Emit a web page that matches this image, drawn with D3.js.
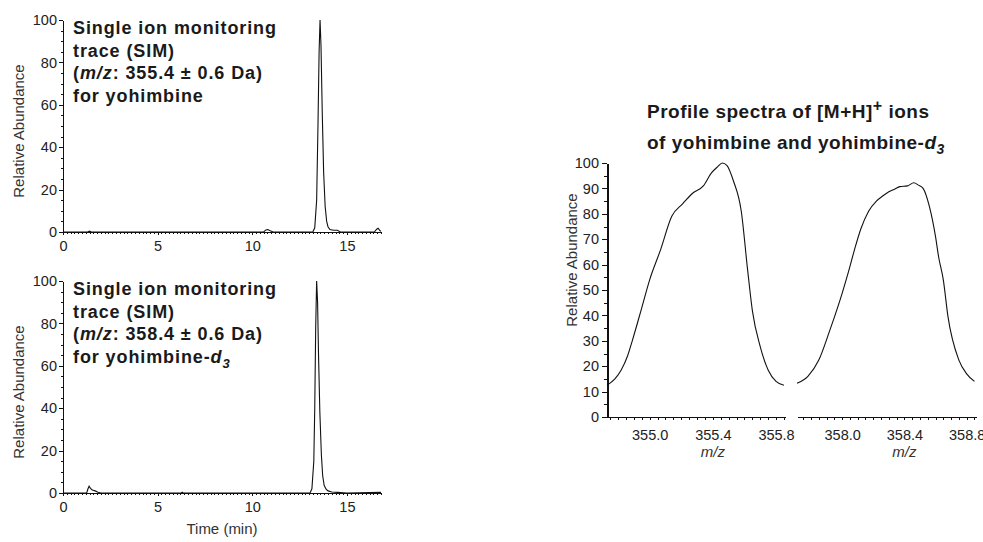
<!doctype html>
<html>
<head>
<meta charset="utf-8">
<title>SIM traces and profile spectra</title>
<style>
  * { margin: 0; padding: 0; }
  body { background: #fff; width: 983px; height: 542px; overflow: hidden; }
  svg { display: block; font-family: "Liberation Sans", Arial, Helvetica, sans-serif; }
  .axis path, .axis line { stroke: #111; shape-rendering: crispEdges; }
  .axis text { font-size: 14.5px; fill: #222; font-family: "Liberation Sans", Arial, sans-serif; }
  .trace { fill: none; stroke: #111; stroke-width: 1.1; }
  .note { font-size: 18px; font-weight: bold; fill: #1a1a1a; letter-spacing: 0.9px; }
  .ylab { font-size: 15px; fill: #333; }
</style>
</head>
<body>
<div id="main"></div>
<script src="https://cdn.jsdelivr.net/npm/d3@7"></script>
<script>
// SIM trace for yohimbine (m/z 355.4)
var time1 = [0, 1.3, 1.4, 1.5, 2.0, 10.6, 10.72, 10.82, 10.95, 11.1, 13.2, 13.3, 13.4, 13.47, 13.53, 13.58, 13.63, 13.7, 13.77, 13.85, 13.93, 14.0, 14.1, 14.3, 14.5, 14.65, 16.45, 16.57, 16.65, 16.75, 16.8];
var abund1 = [0, 0, 0.4, 0, 0, 0, 1.0, 1.2, 0.6, 0, 0, 2, 15, 50, 85, 100, 88, 55, 28, 12, 5, 2.5, 1.2, 0.8, 0.8, 0, 0, 1.3, 1.8, 0.6, 0.3];

// SIM trace for yohimbine-d3 (m/z 358.4)
var time2 = [0, 1.25, 1.32, 1.38, 1.45, 1.55, 1.7, 1.85, 2.0, 6.25, 6.3, 6.35, 13.05, 13.15, 13.25, 13.3, 13.35, 13.4, 13.45, 13.5, 13.57, 13.65, 13.72, 13.8, 13.9, 14.0, 14.2, 14.5, 15.0, 16.8];
var abund2 = [0, 0, 2, 3.2, 2.2, 1.4, 1.0, 0.4, 0, 0, 0.4, 0, 0, 2, 15, 40, 78, 100, 90, 65, 38, 18, 8, 3.5, 1.8, 1.0, 0.5, 0.3, 0, 0.3];

// profile spectra
var mz1 = [354.73, 354.78, 354.82, 354.86, 354.89, 354.95, 355.0, 355.07, 355.14, 355.21, 355.27, 355.34, 355.39, 355.43, 355.46, 355.49, 355.53, 355.58, 355.62, 355.65, 355.70, 355.75, 355.80, 355.85];
var prof1 = [12.5, 15, 18.5, 24, 30, 43, 54, 66, 79, 84, 88, 91, 96, 98.5, 100, 99, 93, 81, 58, 42, 27.7, 18.5, 14, 12.5];
var mz2 = [357.71, 357.78, 357.85, 357.92, 358.0, 358.04, 358.08, 358.12, 358.17, 358.22, 358.26, 358.30, 358.34, 358.37, 358.42, 358.46, 358.49, 358.52, 358.56, 358.60, 358.62, 358.65, 358.68, 358.75, 358.80, 358.85];
var prof2 = [13.3, 16, 22.4, 34, 48.7, 57, 66, 74, 81, 85, 87, 88.7, 89.8, 90.7, 91, 92.2, 91.3, 90, 83, 71, 63, 54, 39.5, 22.4, 17, 14];

var timeTicks = [0, 5, 10, 15];
var abundTicksSIM = [0, 20, 40, 60, 80, 100];
var abundTicksProf = [0, 10, 20, 30, 40, 50, 60, 70, 80, 90, 100];
var mzTicks1 = [355.0, 355.4, 355.8];
var mzTicks2 = [358.0, 358.4, 358.8];

var svg = d3.select('#main').append('svg').attr('width', 983).attr('height', 542);

function zip(a, b) { return a.map(function(v, i) { return [v, b[i]]; }); }

// one chromatogram panel
function simPanel(top, times, abund, lines, showXTitle) {
  var x = d3.scaleLinear().domain([0, 16.8]).range([63, 381]);
  var y = d3.scaleLinear().domain([0, 100]).range([top + 212, top]);
  var g = svg.append('g');

  g.append('g').attr('class', 'axis').attr('transform', 'translate(63,0)')
    .call(d3.axisLeft(y).tickValues(d3.range(0, 101, 5)).tickSize(2.5).tickSizeOuter(0).tickFormat(''));
  g.append('g').attr('class', 'axis').attr('transform', 'translate(63,0)')
    .call(d3.axisLeft(y).tickValues(abundTicksSIM).tickSize(4).tickSizeOuter(0).tickPadding(2).tickFormat(d3.format('d')));

  g.append('g').attr('class', 'axis').attr('transform', 'translate(0,' + (top + 212) + ')')
    .call(d3.axisBottom(x).tickValues(d3.range(0, 16.81, 0.2)).tickSize(2).tickSizeOuter(0).tickFormat(''));
  g.append('g').attr('class', 'axis').attr('transform', 'translate(0,' + (top + 212) + ')')
    .call(d3.axisBottom(x).tickValues(timeTicks).tickSize(3).tickSizeOuter(0).tickPadding(6).tickFormat(d3.format('d')));

  g.append('path').datum(zip(times, abund)).attr('class', 'trace')
    .attr('d', d3.line().x(function(d) { return x(d[0]); }).y(function(d) { return y(d[1]); }));

  g.append('text').attr('class', 'ylab')
    .attr('transform', 'translate(24,' + (top + 111) + ') rotate(-90)')
    .attr('text-anchor', 'middle').text('Relative Abundance');

  // annotation text, one line per entry
  var note = g.append('text').attr('class', 'note');
  lines.forEach(function(parts, i) {
    var first = true;
    parts.forEach(function(p) {
      var t = note.append('tspan').text(p.t);
      if (first) { t.attr('x', 73).attr('y', top + 14 + i * 22.7); first = false; }
      if (p.it) t.attr('font-style', 'italic');
      if (p.sub) t.attr('font-size', '13px').attr('dy', 5);
    });
  });

  if (showXTitle) {
    g.append('text').attr('class', 'ylab').attr('x', 222).attr('y', top + 253)
      .attr('text-anchor', 'middle').text('Time (min)');
  }
}

simPanel(20, time1, abund1, [
  [{t: 'Single ion monitoring'}],
  [{t: 'trace (SIM)'}],
  [{t: '('}, {t: 'm/z', it: true}, {t: ': 355.4 \u00b1 0.6 Da)'}],
  [{t: 'for yohimbine'}]
], false);

simPanel(281, time2, abund2, [
  [{t: 'Single ion monitoring'}],
  [{t: 'trace (SIM)'}],
  [{t: '('}, {t: 'm/z', it: true}, {t: ': 358.4 \u00b1 0.6 Da)'}],
  [{t: 'for yohimbine-'}, {t: 'd', it: true}, {t: '3', it: true, sub: true}]
], true);

// profile spectra, broken x axis
var yP = d3.scaleLinear().domain([0, 100]).range([417, 163]);
var xP1 = d3.scaleLinear().domain([354.73, 355.86]).range([607, 785.5]);
var xP2 = d3.scaleLinear().domain([357.71, 358.86]).range([797, 976]);
var fmt1 = d3.format('.1f');

svg.append('g').attr('class', 'axis').attr('transform', 'translate(607,0)')
  .call(d3.axisLeft(yP).tickValues(d3.range(5, 100, 10)).tickSize(3).tickSizeOuter(0).tickFormat(''));
svg.append('g').attr('class', 'axis').attr('transform', 'translate(607,0)')
  .call(d3.axisLeft(yP).tickValues(abundTicksProf).tickSize(5).tickSizeOuter(0).tickPadding(3).tickFormat(d3.format('d')))
  .select('.domain').style('stroke-width', 2);

[[xP1, mzTicks1, 354.75], [xP2, mzTicks2, 357.75]].forEach(function(s) {
  var sc = s[0];
  svg.append('g').attr('class', 'axis').attr('transform', 'translate(0,417)')
    .call(d3.axisBottom(sc).tickValues(d3.range(s[2], sc.domain()[1], 0.05)).tickSize(3).tickSizeOuter(0).tickFormat(''));
  svg.append('g').attr('class', 'axis').attr('transform', 'translate(0,417)')
    .call(d3.axisBottom(sc).tickValues(s[1]).tickSize(3).tickSizeOuter(0).tickPadding(10).tickFormat(fmt1));
  svg.append('text').attr('class', 'ylab').attr('x', sc(s[1][1])).attr('y', 457)
    .attr('text-anchor', 'middle').attr('font-style', 'italic').attr('font-size', '14px').text('m/z');
});

var lineP = function(sc) {
  return d3.line().curve(d3.curveMonotoneX)
    .x(function(d) { return sc(d[0]); }).y(function(d) { return yP(d[1]); });
};
svg.append('path').datum(zip(mz1, prof1)).attr('class', 'trace').attr('d', lineP(xP1));
svg.append('path').datum(zip(mz2, prof2)).attr('class', 'trace').attr('d', lineP(xP2));

svg.append('text').attr('class', 'ylab')
  .attr('transform', 'translate(577,260) rotate(-90)')
  .attr('text-anchor', 'middle').text('Relative Abundance');

var title = svg.append('text').attr('class', 'note').style('font-size', '19px').style('letter-spacing', '0.5px');
title.append('tspan').attr('x', 647).attr('y', 118).text('Profile spectra of [M+H]');
title.append('tspan').attr('dy', -7).attr('font-size', '16px').text('+');
title.append('tspan').attr('dy', 7).text(' ions');
title.append('tspan').attr('x', 647).attr('y', 149).text('of yohimbine and yohimbine-');
title.append('tspan').attr('font-style', 'italic').text('d');
title.append('tspan').attr('font-style', 'italic').attr('font-size', '14px').attr('dy', 5).text('3');
</script>
</body>
</html>
